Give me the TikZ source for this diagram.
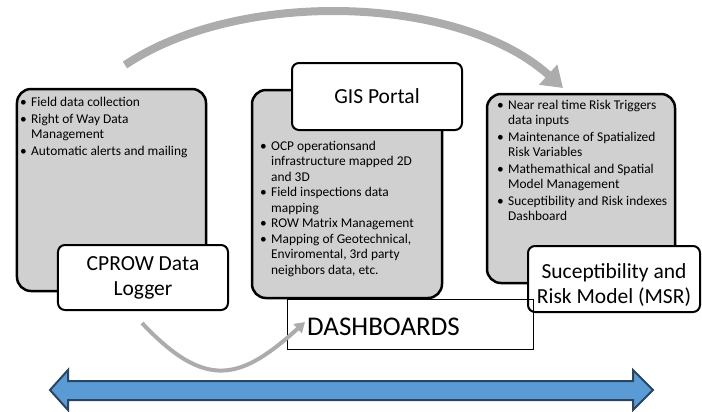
\documentclass[tikz,border=0pt]{standalone}
\usepackage{fontspec}
\setmainfont{Carlito}
\usetikzlibrary{arrows.meta}
\definecolor{boxgray}{RGB}{208,208,208}
\definecolor{arrgray}{RGB}{172,172,172}
\definecolor{bluefill}{HTML}{5B9BD5}
\definecolor{blueline}{HTML}{2A4562}
\newcommand\bul{\makebox[11bp][l]{\textbullet}}
\newcommand\smalltxt{\fontsize{13.4bp}{15.5bp}\selectfont}
\newcommand\bigtxt{\fontsize{21.5bp}{25bp}\selectfont}
\newcommand\hugetxt{\fontsize{27bp}{32bp}\selectfont}
\begin{document}
\begin{tikzpicture}[x=1bp,y=-1bp,
  graybox/.style={draw=black, line width=2.5bp, fill=boxgray, rounded corners=14bp, inner sep=0pt},
  titlebox/.style={draw=black, line width=2bp, fill=white, rounded corners=7bp, inner sep=0pt, align=center, font=\bigtxt},
  listtext/.style={anchor=base west, inner sep=0pt, font=\smalltxt},
  flowarrow/.style={draw=arrgray, line cap=butt}
]
\useasboundingbox (0,0) rectangle (702,411);

% gray boxes
\node[graybox, minimum width=189bp, minimum height=202bp] (cprowbg) at (111.5,190) {};
\node[graybox, minimum width=190bp, minimum height=208bp] (gisbg) at (347,194) {};
\node[graybox, minimum width=188bp, minimum height=189bp] (msrbg) at (581,188.5) {};

% bullet lists
\node[listtext] (cprowlist) at (20,106) {\begin{tabular}[t]{@{}l@{}l@{}}
\bul & Field data collection\\[1.5bp]
\bul & Right of Way Data\\
 & Management\\[1.5bp]
\bul & Automatic alerts and mailing
\end{tabular}};
\node[listtext] (gislist) at (260,150) {\begin{tabular}[t]{@{}l@{}l@{}}
\bul & OCP operationsand\\
 & infrastructure mapped 2D\\
 & and 3D\\
\bul & Field inspections data\\
 & mapping\\
\bul & ROW Matrix Management\\
\bul & Mapping of Geotechnical,\\
 & Enviromental, 3rd party\\
 & neighbors data, etc.
\end{tabular}};
\node[listtext] (msrlist) at (497,109) {\begin{tabular}[t]{@{}l@{}l@{}}
\bul & Near real time Risk Triggers\\
 & data inputs\\[1bp]
\bul & Maintenance of Spatialized\\
 & Risk Variables\\[1bp]
\bul & Mathemathical and Spatial\\
 & Model Management\\[1bp]
\bul & Suceptibility and Risk indexes\\
 & Dashboard
\end{tabular}};

% white title boxes
\node[titlebox, minimum width=170bp, minimum height=65bp] (cprow) at (143,277.5) {CPROW Data\\Logger};
\node[titlebox, minimum width=170bp, minimum height=67bp] (gis) at (377,96.5) {GIS Portal};
\node[titlebox, minimum width=172bp, minimum height=66bp] (msr) at (614,279) {};
\node[inner sep=0pt, align=center, font=\bigtxt] (msrtext) at (614,285) {Suceptibility and\\Risk Model (MSR)};

% dashboards box
\node[draw=black, line width=1bp, minimum width=246bp, minimum height=50bp, inner sep=0pt] (dash) at (410,324) {};
\node[anchor=west, inner sep=0pt, font=\hugetxt] (dashtext) at (307,326.5) {DASHBOARDS};

% flow arrows
\coordinate (topstart) at (125,65);
\coordinate (topend) at (563,88);
\draw[flowarrow, line width=8bp, -{Triangle[width=26bp,length=20bp]}]
  (topstart) .. controls (240,-12) and (460,-5) .. (topend);
\coordinate (botstart) at (142,323);
\coordinate (botend) at (305,322);
\draw[flowarrow, line width=4bp, -{Triangle[width=12bp,length=10bp]}]
  (botstart) .. controls (206,391) and (241,380) .. (botend);

% blue double arrow
\draw[draw=blueline, fill=bluefill, line width=2bp, line join=miter]
  (50,390) -- (68,370) -- (68,381) -- (633,381) -- (633,370) -- (653,390)
  -- (633,410) -- (633,400) -- (68,400) -- (68,410) -- cycle;
\end{tikzpicture}
\end{document}
